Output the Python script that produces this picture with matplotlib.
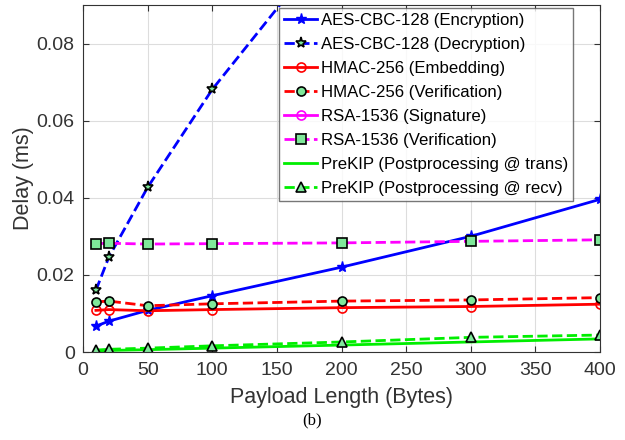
import matplotlib
matplotlib.use("Agg")
import matplotlib.pyplot as plt

plt.rcParams['font.family'] = ['Liberation Sans', 'DejaVu Sans']

payload = [10, 20, 50, 100, 200, 300, 400]
aes_enc = [0.0067, 0.0080, 0.0108, 0.0146, 0.0220, 0.0300, 0.0396]
aes_dec = [0.0160, 0.0246, 0.0427, 0.0681, 0.1100, 0.1520, 0.1940]
hmac_emb = [0.0108, 0.0110, 0.0107, 0.0110, 0.0115, 0.0118, 0.0124]
hmac_ver = [0.0130, 0.0132, 0.0120, 0.0125, 0.0132, 0.0135, 0.0141]
rsa_sig = [1.20, 1.20, 1.20, 1.20, 1.20, 1.20, 1.20]
rsa_ver = [0.0281, 0.0282, 0.0280, 0.0281, 0.0283, 0.0287, 0.0291]
prekip_trans = [0.0003, 0.0004, 0.0006, 0.0010, 0.0018, 0.0026, 0.0034]
prekip_recv = [0.0005, 0.0007, 0.0010, 0.0016, 0.0026, 0.0038, 0.0044]

labels = ["AES-CBC-128 (Encryption)", "AES-CBC-128 (Decryption)",
          "HMAC-256 (Embedding)", "HMAC-256 (Verification)",
          "RSA-1536 (Signature)", "RSA-1536 (Verification)",
          "PreKIP (Postprocessing @ trans)", "PreKIP (Postprocessing @ recv)"]

fig = plt.figure(figsize=(6.25, 4.4), dpi=100)
ax = fig.add_axes([83/625, 1-352/440, (600-83)/625, (352-5)/440])

lg = '#7fe89a'
ax.plot(payload, aes_enc, '-', color='blue', lw=2, marker='*', ms=8, mfc='blue', mec='blue', label=labels[0])
ax.plot(payload, aes_dec, '--', color='blue', lw=2, marker='*', ms=8, mfc=lg, mec='black', mew=1.2, label=labels[1])
ax.plot(payload, hmac_emb, '-', color='red', lw=2, marker='o', ms=6.5, mfc='none', mec='red', mew=1.2, label=labels[2])
ax.plot(payload, hmac_ver, '--', color='red', lw=2, marker='o', ms=6.5, mfc=lg, mec='black', mew=1.2, label=labels[3])
ax.plot(payload, rsa_sig, '-', color='magenta', lw=2, marker='o', ms=6.5, mfc='none', mec='magenta', mew=1.2, label=labels[4])
ax.plot(payload, rsa_ver, '--', color='magenta', lw=2, marker='s', ms=6.5, mfc=lg, mec='black', mew=1.2, label=labels[5])
ax.plot(payload, prekip_trans, '-', color='#00ee00', lw=2, label=labels[6])
ax.plot(payload, prekip_recv, '--', color='#00ee00', lw=2, marker='^', ms=6.5, mfc=lg, mec='black', mew=1.2, label=labels[7])

ax.set_xlim(0, 400)
ax.set_ylim(0, 0.09)
ax.set_xticks(range(0, 401, 50))
ax.set_yticks([0, 0.02, 0.04, 0.06, 0.08])
ax.set_yticklabels(['0', '0.02', '0.04', '0.06', '0.08'])
ax.grid(True, color='#dddddd', lw=0.8)
ax.tick_params(direction='in', top=True, right=True, labelsize=14, colors='#333333', length=4)
ax.tick_params(axis='x', pad=7)
ax.tick_params(axis='y', pad=6)
for s in ax.spines.values():
    s.set_color('#333333')
ax.set_xlabel('Payload Length (Bytes)', fontsize=15.5, color='#333333', labelpad=6)
ax.set_ylabel('Delay (ms)', fontsize=15.5, color='#333333', labelpad=2)

leg = ax.legend(loc='upper right', bbox_to_anchor=(0.948, 0.991), borderaxespad=0,
                fontsize=12.1, frameon=True,
                fancybox=False, edgecolor='#555555', handlelength=2.0, labelspacing=0.53,
                borderpad=0.3, handletextpad=0.2)
leg.get_frame().set_linewidth(1.0)

fig.text(0.5, 1-420/440, '(b)', ha='center', va='center', fontsize=12, family='Liberation Serif')

fig.savefig('out.png', dpi=100)
